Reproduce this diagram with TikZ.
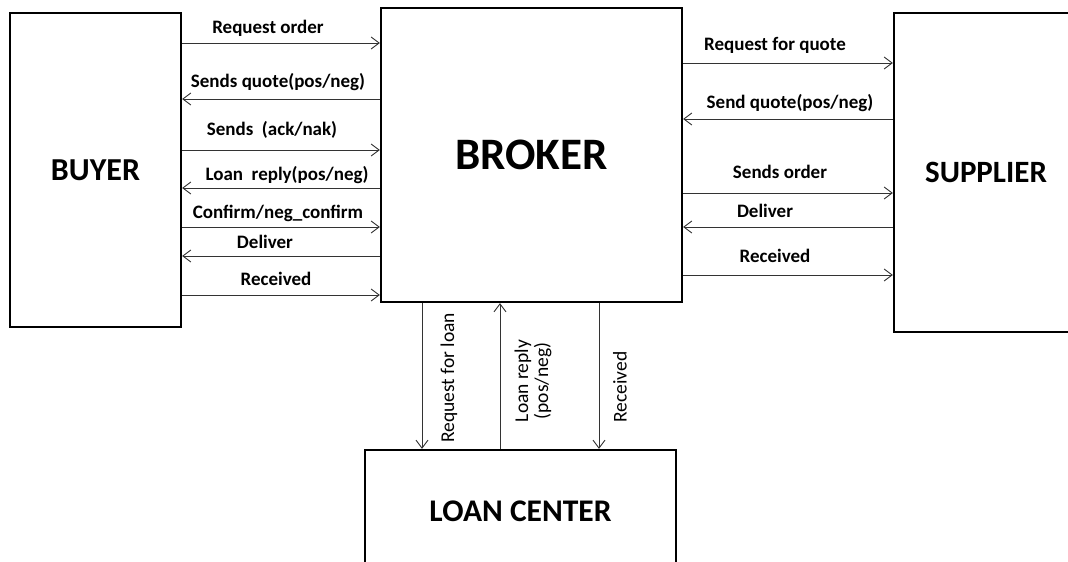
\documentclass[tikz,border=0pt]{standalone}
\usepackage{fontspec}
\setmainfont{Carlito}
\usetikzlibrary{arrows.meta}

\begin{document}
\begin{tikzpicture}[x=1pt,y=-1pt,
  box/.style={draw,line width=2.2pt,inner sep=0pt},
  msg/.style={draw=black!80,line width=0.9pt,-{Straight Barb[length=8pt,width=12pt]}},
  lbl/.style={font=\bfseries\fontsize{19}{21}\selectfont,anchor=base,inner sep=0pt},
  vlbl/.style={font=\fontsize{19.5}{20}\selectfont,rotate=90,align=center,inner sep=0pt}]
\useasboundingbox (0,0) rectangle (1068,562);

% Parties
\node[box,minimum width=171pt,minimum height=314pt,font=\bfseries\fontsize{32}{35}\selectfont] (buyer) at (95.5,170) {BUYER};
\node[box,minimum width=301pt,minimum height=294pt,font=\bfseries\fontsize{45}{50}\selectfont] (broker) at (531.5,155) {BROKER};
\node[box,minimum width=184pt,minimum height=319pt,font=\bfseries\fontsize{31}{34}\selectfont] (supplier) at (986,172.5) {SUPPLIER};
\node[box,minimum width=311pt,minimum height=122pt,font=\bfseries\fontsize{31.5}{34}\selectfont] (loan) at (520.5,511) {LOAN CENTER};

% Buyer <-> Broker
\draw[msg] (buyer.east |- 0,43) -- (broker.west |- 0,43);
\node[lbl] (l1) at (268,33) {Request order};
\draw[msg] (broker.west |- 0,99) -- (buyer.east |- 0,99);
\node[lbl] (l2) at (278,87) {Sends quote(pos/neg)};
\draw[msg] (buyer.east |- 0,150) -- (broker.west |- 0,150);
\node[lbl] (l3) at (272,135) {Sends~ (ack/nak)};
\draw[msg] (broker.west |- 0,188) -- (buyer.east |- 0,188);
\node[lbl] (l4) at (287,180) {Loan~ reply(pos/neg)};
\draw[msg] (buyer.east |- 0,227) -- (broker.west |- 0,227);
\node[lbl] (l5) at (278,218) {Confirm/neg\_confirm};
\draw[msg] (broker.west |- 0,256) -- (buyer.east |- 0,256);
\node[lbl] (l6) at (265,248) {Deliver};
\draw[msg] (buyer.east |- 0,295) -- (broker.west |- 0,295);
\node[lbl] (l7) at (276,285) {Received};

% Broker <-> Supplier
\draw[msg] (broker.east |- 0,63) -- (supplier.west |- 0,63);
\node[lbl] (r1) at (775,50) {Request for quote};
\draw[msg] (supplier.west |- 0,119) -- (broker.east |- 0,119);
\node[lbl] (r2) at (790,108) {Send quote(pos/neg)};
\draw[msg] (broker.east |- 0,193) -- (supplier.west |- 0,193);
\node[lbl] (r3) at (780,178) {Sends order};
\draw[msg] (supplier.west |- 0,227) -- (broker.east |- 0,227);
\node[lbl] (r4) at (765,217) {Deliver};
\draw[msg] (broker.east |- 0,275) -- (supplier.west |- 0,275);
\node[lbl] (r5) at (775,262) {Received};

% Broker <-> Loan center
\draw[msg] (broker.south -| 422,0) -- (loan.north -| 422,0);
\node[vlbl] (b1) at (449,378) {Request for loan};
\draw[msg] (loan.north -| 500,0) -- (broker.south -| 500,0);
\node[vlbl] (b2) at (533,381) {Loan reply\\(pos/neg)};
\draw[msg] (broker.south -| 599,0) -- (loan.north -| 599,0);
\node[vlbl] (b3) at (620,387) {Received};
\end{tikzpicture}
\end{document}
